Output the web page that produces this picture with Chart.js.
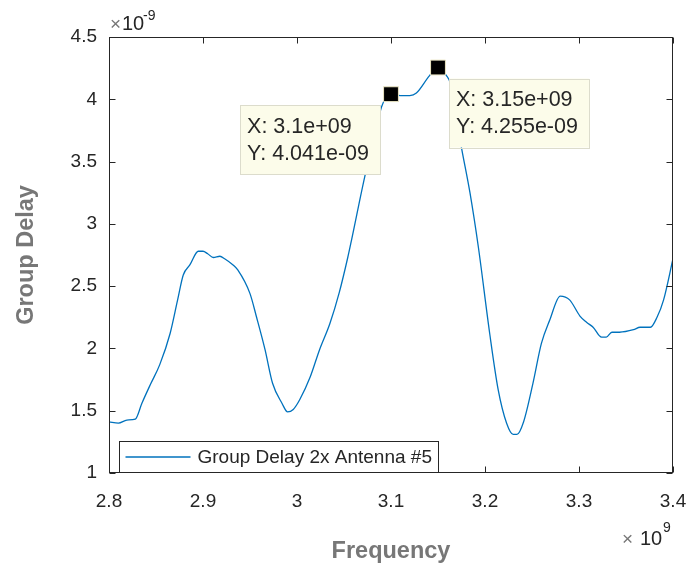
<!DOCTYPE html>
<html>
<head>
<meta charset="utf-8">
<script src="https://cdn.jsdelivr.net/npm/chart.js@4"></script>
<style>
  html, body { margin: 0; padding: 0; background: #fff; }
  #wrap { width: 687px; height: 568px; position: relative; }
</style>
</head>
<body>
<div id="wrap"><canvas id="delayChart"></canvas></div>
<script>
// frequency in units of 1e9 Hz, group delay in units of 1e-9 s
const freq = [2.800, 2.810, 2.819, 2.828, 2.835, 2.844, 2.854, 2.865, 2.873, 2.879,
  2.886, 2.895, 2.900, 2.905, 2.911, 2.918, 2.923, 2.932, 2.937, 2.950,
  2.957, 2.966, 2.974, 2.984, 2.990, 2.996, 3.003, 3.014, 3.024, 3.035,
  3.045, 3.054, 3.058, 3.073, 3.082, 3.090, 3.100, 3.110, 3.120, 3.127,
  3.141, 3.150, 3.159, 3.163, 3.175, 3.184, 3.193, 3.205, 3.214, 3.223,
  3.230, 3.234, 3.241, 3.251, 3.260, 3.269, 3.280, 3.290, 3.301, 3.308,
  3.315, 3.324, 3.329, 3.335, 3.343, 3.358, 3.365, 3.376, 3.383, 3.390, 3.400];
const delay = [1.41, 1.40, 1.425, 1.433, 1.56, 1.71, 1.87, 2.12, 2.39, 2.59,
  2.67, 2.78, 2.78, 2.76, 2.73, 2.74, 2.72, 2.67, 2.63, 2.44,
  2.25, 1.99, 1.72, 1.56, 1.49, 1.51, 1.59, 1.77, 1.99, 2.20,
  2.45, 2.73, 2.87, 3.41, 3.68, 3.94, 4.041, 4.03, 4.03, 4.05,
  4.19, 4.255, 4.19, 4.13, 3.61, 3.25, 2.81, 2.12, 1.67, 1.40,
  1.31, 1.31, 1.41, 1.72, 2.04, 2.23, 2.42, 2.39, 2.26, 2.21,
  2.17, 2.09, 2.09, 2.13, 2.13, 2.15, 2.17, 2.17, 2.25, 2.39, 2.72];

// data tips
const tipX = [3.1, 3.15];
const tipY = [4.041, 4.255];
const tipSide = ["left", "right"];

const xTicks = [2.8, 2.9, 3, 3.1, 3.2, 3.3, 3.4];
const yTicks = [1, 1.5, 2, 2.5, 3, 3.5, 4, 4.5];

const seriesLabel = "Group Delay 2x Antenna #5";
const lineColor = "#0072BD";
const axisColor = "#262626";
const FONT = "'Liberation Sans', Arial, sans-serif";

Chart.defaults.font.family = FONT;

const points = freq.map((f, i) => ({ x: f, y: delay[i] }));
const tipPoints = tipX.map((f, i) => ({ x: f, y: tipY[i] }));

// box, inward ticks, exponents, legend and data tip boxes (MATLAB look)
const matlabAxes = {
  id: "matlabAxes",
  afterDatasetsDraw(chart) {
    const ctx = chart.ctx;
    const xs = chart.scales.x;
    const ys = chart.scales.y;
    ctx.save();
    ctx.font = "21.5px " + FONT;
    tipX.forEach((tx, i) => {
      const mx = xs.getPixelForValue(tx);
      const my = ys.getPixelForValue(tipY[i]);
      const l1 = "X: " + tx + "e+09";
      const l2 = "Y: " + tipY[i] + "e-09";
      const w = Math.max(ctx.measureText(l1).width, ctx.measureText(l2).width) + 18;
      const h = 69;
      const bx = tipSide[i] === "left" ? mx - 11 - w : mx + 11;
      const by = my + 11;
      ctx.fillStyle = "#fcfcea";
      ctx.fillRect(bx, by, w, h);
      ctx.strokeStyle = "#dcdccc";
      ctx.lineWidth = 1;
      ctx.strokeRect(Math.round(bx) + 0.5, Math.round(by) + 0.5, Math.round(w), h);
      ctx.fillStyle = axisColor;
      ctx.textBaseline = "middle";
      ctx.textAlign = "left";
      ctx.fillText(l1, bx + 7, by + 22);
      ctx.fillText(l2, bx + 7, by + 49);
    });
    ctx.restore();
  },
  afterDraw(chart) {
    const ctx = chart.ctx;
    const a = chart.chartArea;
    const xs = chart.scales.x;
    const ys = chart.scales.y;
    ctx.save();
    ctx.strokeStyle = axisColor;
    ctx.lineWidth = 1;
    const L = Math.round(a.left) + 0.5, R = Math.round(a.right) - 0.5;
    const T = Math.round(a.top) + 0.5, B = Math.round(a.bottom) - 0.5;
    ctx.strokeRect(L, T, R - L, B - T);
    const tl = 6;
    ctx.beginPath();
    xTicks.forEach(v => {
      const px = Math.round(xs.getPixelForValue(v)) + 0.5;
      ctx.moveTo(px, B); ctx.lineTo(px, B - tl);
      ctx.moveTo(px, T); ctx.lineTo(px, T + tl);
    });
    yTicks.forEach(v => {
      const py = Math.round(ys.getPixelForValue(v)) + 0.5;
      ctx.moveTo(L, py); ctx.lineTo(L + tl, py);
      ctx.moveTo(R, py); ctx.lineTo(R - tl, py);
    });
    ctx.stroke();

    // exponent labels
    ctx.textBaseline = "alphabetic";
    ctx.textAlign = "left";
    ctx.fillStyle = "#777";
    ctx.font = "19px " + FONT;
    ctx.fillText("\u00d7", a.left + 1, 30);
    ctx.fillStyle = axisColor;
    ctx.font = "20px " + FONT;
    ctx.fillText("10", a.left + 13, 30);
    ctx.font = "14px " + FONT;
    ctx.fillText("-9", a.left + 34, 20);

    ctx.fillStyle = "#777";
    ctx.font = "19px " + FONT;
    ctx.fillText("\u00d7", a.right - 51, 545);
    ctx.fillStyle = axisColor;
    ctx.font = "20px " + FONT;
    ctx.fillText("10", a.right - 33, 545);
    ctx.font = "14px " + FONT;
    ctx.fillText("9", a.right - 10, 532);

    // legend inside lower-left corner
    const lx = Math.round(a.left) + 10.5, lh = 31;
    const ly = B - lh;
    ctx.font = "19px " + FONT;
    const lw = 78 + ctx.measureText(seriesLabel).width + 7;
    ctx.fillStyle = "#fff";
    ctx.fillRect(lx, ly, lw, lh);
    ctx.strokeStyle = axisColor;
    ctx.strokeRect(lx, ly, Math.round(lw), lh);
    ctx.strokeStyle = lineColor;
    ctx.lineWidth = 1.3;
    ctx.beginPath();
    ctx.moveTo(lx + 6, ly + lh / 2);
    ctx.lineTo(lx + 71, ly + lh / 2);
    ctx.stroke();
    ctx.fillStyle = axisColor;
    ctx.textBaseline = "middle";
    ctx.fillText(seriesLabel, lx + 78, ly + lh / 2 + 1);
    ctx.restore();
  }
};

new Chart(document.getElementById("delayChart"), {
  type: "line",
  data: {
    datasets: [
      {
        label: seriesLabel,
        data: points,
        borderColor: lineColor,
        borderWidth: 1.3,
        pointRadius: 0,
        cubicInterpolationMode: "monotone",
        fill: false,
        order: 2,
      },
      {
        label: "data tips",
        data: tipPoints,
        showLine: false,
        pointStyle: "rect",
        pointRadius: 10.5,
        backgroundColor: "#000",
        borderColor: "#ebe6c4",
        borderWidth: 1,
        order: 1,
      },
    ],
  },
  options: {
    responsive: true,
    maintainAspectRatio: false,
    animation: false,
    layout: { padding: { top: 37, right: 14, left: 0, bottom: 0 } },
    plugins: {
      legend: { display: false },
      tooltip: { enabled: false },
    },
    scales: {
      x: {
        type: "linear",
        min: 2.8,
        max: 3.4,
        afterBuildTicks: (scale) => { scale.ticks = xTicks.map(v => ({ value: v })); },
        afterFit: (scale) => {
          scale.height = 95;
          scale.paddingLeft = 0;
          scale.paddingRight = 0;
        },
        grid: { display: false, drawTicks: false },
        border: { display: false },
        ticks: {
          color: axisColor,
          font: { size: 19 },
          padding: 17,
          maxRotation: 0,
          callback: (v) => String(v),
        },
        title: {
          display: true,
          text: "Frequency",
          color: "#777",
          font: { size: 23.5, weight: "bold" },
          padding: { top: 0, bottom: 2 },
        },
      },
      y: {
        min: 1,
        max: 4.5,
        afterBuildTicks: (scale) => { scale.ticks = yTicks.map(v => ({ value: v })); },
        afterFit: (scale) => {
          scale.width = 109;
          scale.paddingTop = 0;
          scale.paddingBottom = 0;
        },
        grid: { display: false, drawTicks: false },
        border: { display: false },
        ticks: {
          color: axisColor,
          font: { size: 19 },
          padding: 12,
          callback: (v) => String(v),
        },
        title: {
          display: true,
          text: "Group Delay",
          color: "#777",
          font: { size: 23.5, weight: "bold" },
          padding: { top: 12, bottom: 0 },
        },
      },
    },
  },
  plugins: [matlabAxes],
});
</script>
</body>
</html>
